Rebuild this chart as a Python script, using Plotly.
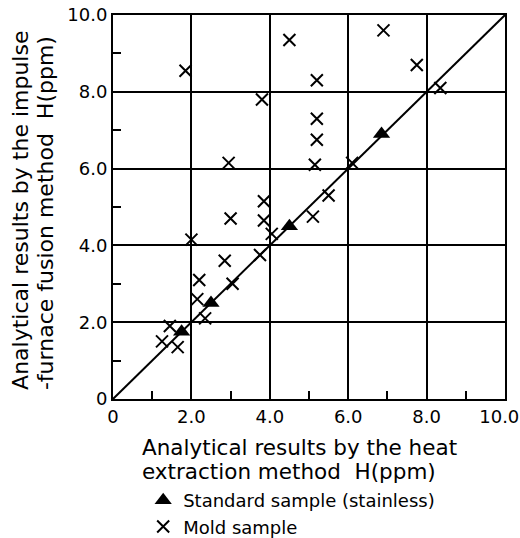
import plotly.graph_objects as go

# Data
std_x = [1.75, 2.5, 4.5, 6.85]
std_y = [1.75, 2.5, 4.5, 6.9]

mold_x = [1.25, 1.45, 1.65, 1.85, 2.0, 2.15, 2.2, 2.35, 2.85, 2.95, 3.0, 3.05,
          3.75, 3.8, 3.85, 3.85, 4.05, 4.5, 5.1, 5.15, 5.2, 5.2, 5.2, 5.5,
          6.1, 6.9, 7.75, 8.35]
mold_y = [1.5, 1.9, 1.35, 8.55, 4.15, 2.6, 3.1, 2.1, 3.6, 6.15, 4.7, 3.0,
          3.75, 7.8, 5.15, 4.65, 4.3, 9.35, 4.75, 6.1, 8.3, 7.3, 6.75, 5.3,
          6.15, 9.6, 8.7, 8.1]

line_x = [0, 10]
line_y = [0, 10]

tick_vals = [0, 2, 4, 6, 8, 10]
y_tick_text = ["0", "2.0", "4.0", "6.0", "8.0", "10.0"]
x_tick_text = ["0", "2.0", "4.0", "6.0", "8.0", "10.0\u00a0\u00a0"]
minor_vals = [1, 3, 5, 7, 9]

x_title_lines = ["Analytical results by the heat", "extraction method  H(ppm)"]
y_title_lines = ["Analytical results by the impulse", "-furnace fusion method  H(ppm)"]

FONT = "DejaVu Sans"

fig = go.Figure()
fig.add_trace(go.Scatter(x=line_x, y=line_y, mode="lines",
                         line=dict(color="black", width=2), showlegend=False,
                         hoverinfo="skip"))
fig.add_trace(go.Scatter(x=std_x, y=std_y, mode="markers",
                         name="Standard sample (stainless)",
                         marker=dict(symbol="triangle-up", size=15, color="black")))
fig.add_trace(go.Scatter(x=mold_x, y=mold_y, mode="markers",
                         name="Mold sample",
                         marker=dict(symbol="x-thin", size=12,
                                     line=dict(color="black", width=2))))

axis_common = dict(
    range=[0, 10], tickvals=tick_vals,
    showgrid=True, gridcolor="black", gridwidth=1.5,
    showline=True, linecolor="black", linewidth=2, mirror=True,
    ticks="", zeroline=False, ticklabeloverflow="allow",
    tickfont=dict(family=FONT, size=18, color="black"),
    minor=dict(tickvals=minor_vals, ticks="inside", ticklen=8,
               tickcolor="black", tickwidth=2, showgrid=False),
)

annotations = []
for text, py in zip(x_title_lines, [-0.1263, -0.1888]):
    annotations.append(dict(text=text, xref="paper", yref="paper",
                            x=0.0689, y=py, xanchor="left", yanchor="middle",
                            showarrow=False,
                            font=dict(family=FONT, size=21.5, color="black")))
for text, px in zip(y_title_lines, [-0.2365, -0.1735]):
    annotations.append(dict(text=text, xref="paper", yref="paper",
                            x=px, y=0.018, xanchor="center", yanchor="bottom",
                            textangle=-90, showarrow=False,
                            font=dict(family=FONT, size=22, color="black")))

fig.update_layout(
    width=520, height=538,
    margin=dict(l=113, r=15, t=15, b=139, autoexpand=False),
    paper_bgcolor="white", plot_bgcolor="white",
    font=dict(family=FONT, color="black"),
    xaxis=dict(ticktext=x_tick_text, **axis_common),
    yaxis=dict(ticktext=y_tick_text, **axis_common),
    legend=dict(x=0.077, y=-0.216, xanchor="left", yanchor="top",
                font=dict(family=FONT, size=18, color="black"),
                bgcolor="rgba(0,0,0,0)", tracegroupgap=0),
    annotations=annotations,
)

fig.write_html("out.html", config={"displayModeBar": False},
               post_script="document.body.style.margin='0';")
